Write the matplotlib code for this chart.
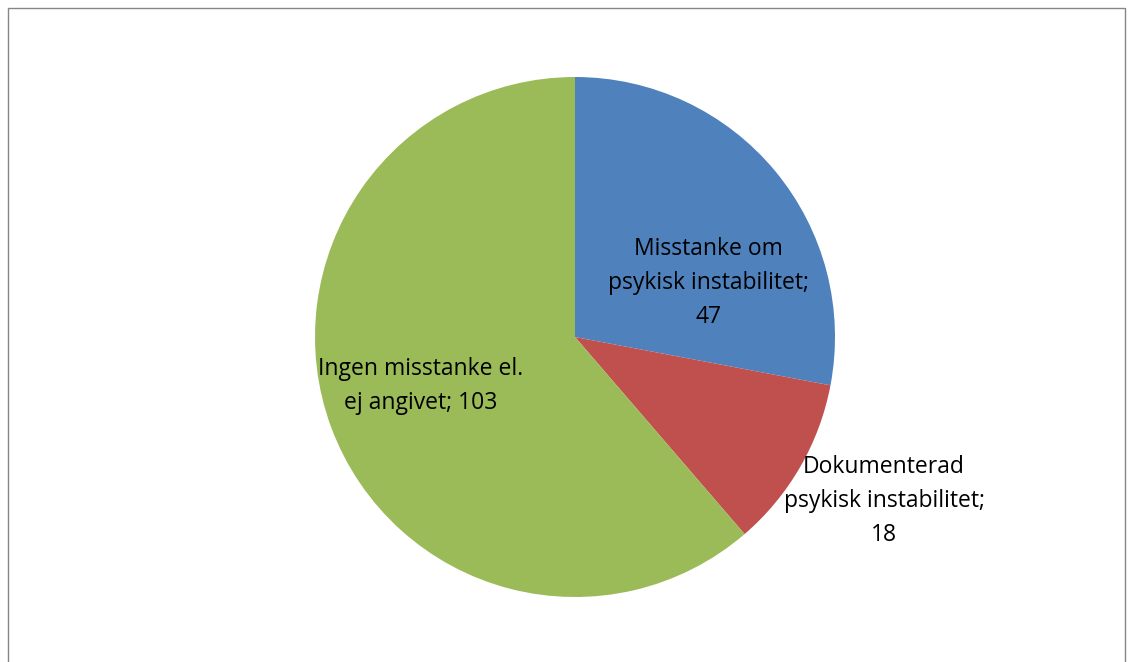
import matplotlib.pyplot as plt
from matplotlib.patches import Rectangle

# Data
kategorier = ["Misstanke om\npsykisk instabilitet;\n47",
              "Dokumenterad\npsykisk instabilitet;\n18",
              "Ingen misstanke el.\nej angivet; 103"]
antal = [47, 18, 103]
farger = ["#4F81BD", "#C0504D", "#9BBB59"]

W, H = 1133, 662
fig = plt.figure(figsize=(W / 100, H / 100), dpi=100)

# pie centre ~ (575, 337) px, radius ~ 260 px
cx, cy, r = 575, 337, 260
ax = fig.add_axes([(cx - r) / W, (H - cy - r) / H, 2 * r / W, 2 * r / H])
ax.pie(antal, colors=farger, startangle=90, counterclock=False,
       radius=1, wedgeprops=dict(linewidth=0))
ax.set_xlim(-1, 1)
ax.set_ylim(-1, 1)
ax.set_aspect("equal")
ax.axis("off")

# label positions (pixel -> data coords)
pos_px = [(708, 283), (884, 501), (421, 386)]
for txt, (px, py) in zip(kategorier, pos_px):
    ax.text((px - cx) / r, (cy - py) / r, txt, ha="center", va="center",
            fontsize=16.5, family=["Open Sans", "DejaVu Sans"], color="black",
            linespacing=1.58, clip_on=False)

# outer frame
fig.patches.append(Rectangle((8 / W, -0.01), (1125 - 8) / W, (H - 8) / H + 0.01,
                             transform=fig.transFigure, fill=False,
                             edgecolor="#868686", linewidth=1))

fig.savefig("out.png", dpi=100)
